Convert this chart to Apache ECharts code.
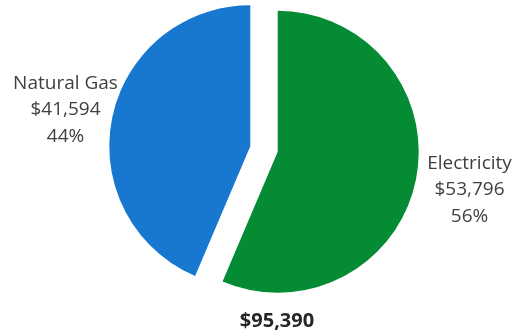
<!DOCTYPE html>
<html>
<head>
<meta charset="utf-8">
<script src="https://cdn.jsdelivr.net/npm/echarts@6/dist/echarts.min.js"></script>
<style>
  html, body { margin: 0; padding: 0; background: #fff; }
  #chart { width: 518px; height: 333px; }
</style>
</head>
<body>
<div id="chart"></div>
<script>
// Annual energy spend split by fuel
const categories = ['Electricity', 'Natural Gas'];
const costs = [53796, 41594];
const sliceColors = ['#048B34', '#1877CF'];
const totalLabel = '$95,390';

const fmtMoney = v => '$' + v.toLocaleString('en-US');
const sum = costs.reduce((a, b) => a + b, 0);

// Where each slice caption sits: [centre x, top y]
const captionSpots = [[469.5, 150], [65.5, 70]];

const captions = categories.map((c, i) => ({
  type: 'text',
  x: captionSpots[i][0],
  y: captionSpots[i][1],
  silent: true,
  style: {
    text: c + '\n' + fmtMoney(costs[i]) + '\n' + Math.round(costs[i] / sum * 100) + '%',
    fontFamily: 'Open Sans',
    fontSize: 19,
    lineHeight: 26.5,
    fill: '#404040',
    align: 'center',
    verticalAlign: 'top'
  }
}));

// Grand total under the pie
captions.push({
  type: 'text',
  x: 277,
  y: 308.5,
  silent: true,
  style: {
    text: totalLabel,
    fontFamily: 'Open Sans',
    fontWeight: 'bold',
    fontSize: 20,
    lineHeight: 26,
    fill: '#262626',
    align: 'center',
    verticalAlign: 'top'
  }
});

const chart = echarts.init(document.getElementById('chart'));
chart.setOption({
  animation: false,
  graphic: captions,
  series: [{
    type: 'pie',
    center: [264, 149],
    radius: 141,
    startAngle: 90,
    clockwise: true,
    selectedMode: 'multiple',
    selectedOffset: 14,
    emphasis: { disabled: true },
    label: { show: false },
    labelLine: { show: false },
    data: categories.map((c, i) => ({
      name: c,
      value: costs[i],
      selected: true,
      itemStyle: { color: sliceColors[i] }
    }))
  }]
});
</script>
</body>
</html>
